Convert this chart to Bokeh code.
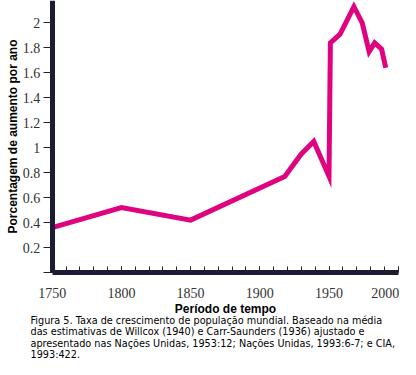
from bokeh.plotting import figure
from bokeh.models import SingleIntervalTicker, FixedTicker, CustomJSTickFormatter, Range1d, Label
from bokeh.core.properties import value
from bokeh.embed import file_html
from bokeh.resources import INLINE

# ---- data ----
years = [1750, 1800, 1850, 1918, 1930, 1939, 1950, 1951, 1958, 1968, 1974, 1979, 1983, 1988, 1991]
rates = [0.36, 0.52, 0.42, 0.77, 0.95, 1.05, 0.77, 1.84, 1.91, 2.13, 2.00, 1.77, 1.84, 1.79, 1.64]
y_ticks = [0, 0.2, 0.4, 0.6, 0.8, 1.0, 1.2, 1.4, 1.6, 1.8, 2.0]
x_last_tick = [2000]
x_last_label = ["2000"]
x_label = "Período de tempo"
y_label = "Porcentagem de aumento por ano"
caption = [
    "Figura 5. Taxa de crescimento de população mundial. Baseado na média",
    "das estimativas de Willcox (1940) e Carr-Saunders (1936) ajustado e",
    "apresentado nas Nações Unidas, 1953:12; Nações Unidas, 1993:6-7; e CIA,",
    "1993:422.",
]

W, H = 400, 359
X0, X1 = 1750, 2000
Y_TOP = 2.1795
p = figure(width=W, height=H, output_backend="svg", toolbar_location=None,
           x_range=Range1d(1712.64, 2001.66), y_range=Range1d(-0.6971, Y_TOP),
           min_border_left=0, min_border_right=0, min_border_top=0, min_border_bottom=0)
p.outline_line_color = None
p.grid.visible = False
p.background_fill_color = "white"
p.border_fill_color = "white"

p.line(years, rates, line_color="#E0037F", line_width=5, line_join="miter")

axis_col = "#1C1C34"
tick_font = "Liberation Serif"
tick_size = "14px"
tick_col = "#333333"
for ax in (p.xaxis[0], p.yaxis[0]):
    ax.axis_line_color = axis_col
    ax.axis_line_width = 5
    ax.major_tick_line_color = "#22223A"
    ax.minor_tick_line_color = "#22223A"
    ax.major_label_text_font = tick_font
    ax.major_label_text_font_size = tick_size
    ax.major_label_text_color = tick_col
    ax.axis_label_text_font = "Liberation Sans"
    ax.axis_label_text_font_style = "bold"
    ax.axis_label_text_font_size = "12px"
    ax.axis_label_text_color = "black"

xa = p.xaxis[0]
xa.fixed_location = 0
xa.bounds = (X0, X1)
xa.ticker = SingleIntervalTicker(interval=50, num_minor_ticks=5)
xa.formatter = CustomJSTickFormatter(code="return tick >= 2000 ? '' : String(tick);")
xa.major_tick_in = 6
xa.major_tick_out = 0
xa.minor_tick_in = 6
xa.minor_tick_out = 0
xa.major_label_standoff = 15
xa.axis_label = x_label
xa.axis_label_standoff = 1

ya = p.yaxis[0]
ya.fixed_location = X0
ya.bounds = (0, Y_TOP)
ya.ticker = FixedTicker(ticks=y_ticks)
ya.formatter = CustomJSTickFormatter(code="return tick == 0 ? '' : String(+tick.toFixed(1));")
ya.major_tick_in = 0
ya.major_tick_out = 9
ya.minor_tick_in = 0
ya.minor_tick_out = 0
ya.major_label_standoff = 3
ya.axis_label = y_label
ya.axis_label_standoff = 0

# last x tick label, kept inside the right edge
p.text(x=x_last_tick, y=[0], text=x_last_label, x_offset=1, y_offset=15,
       text_align="right", text_baseline="top",
       text_font=value(tick_font), text_font_size=tick_size, text_color=tick_col)

cap_centers = [319.5, 331, 342.5, 354]
for line, cy in zip(caption, cap_centers):
    p.add_layout(Label(x=30, y=H - cy, x_units="screen", y_units="screen",
                       text=line, text_align="left", text_baseline="middle",
                       text_font="DejaVu Sans", text_font_size="9.7px", text_color="black"))

open("out.html", "w").write(file_html(p, INLINE))
